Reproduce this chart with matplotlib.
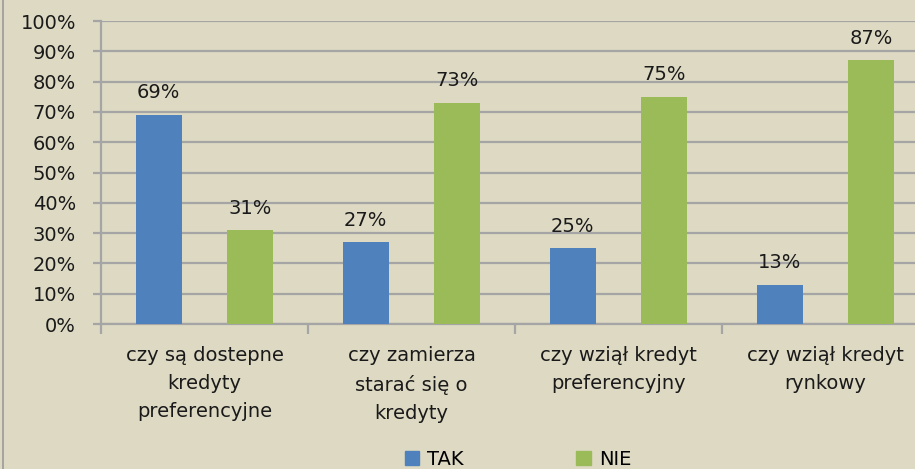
import matplotlib.pyplot as plt
import numpy as np
from matplotlib.patches import Patch
from matplotlib.lines import Line2D

# Data
categories = ["czy są dostepne\nkredyty\npreferencyjne",
              "czy zamierza\nstarać się o\nkredyty",
              "czy wziął kredyt\npreferencyjny",
              "czy wziął kredyt\nrynkowy"]
tak = [69, 27, 25, 13]
nie = [31, 73, 75, 87]
series_names = ["TAK", "NIE"]

bg = "#DDD9C3"
c_tak = "#4F81BD"
c_nie = "#9BBB59"
grid_c = "#A5A5A5"
fs = 14

fig = plt.figure(figsize=(9.15, 4.69), dpi=100, facecolor=bg)
ax = fig.add_axes([101 / 915, 1 - 324 / 469, 828 / 915, 303 / 469], facecolor=bg)

x = np.arange(len(categories))
w = 0.222
b1 = ax.bar(x - w, tak, width=w, color=c_tak, zorder=3)
b2 = ax.bar(x + w, nie, width=w, color=c_nie, zorder=3)

for bars, vals in [(b1, tak), (b2, nie)]:
    for r, v in zip(bars, vals):
        ax.annotate(f"{v}%", (r.get_x() + r.get_width() / 2, v),
                    xytext=(0, 9), textcoords="offset points",
                    ha="center", va="bottom", fontsize=fs, color="#1a1a1a")

ax.set_xlim(-0.5, 3.5)
ax.set_ylim(0, 100)
yt = np.arange(0, 101, 10)
ax.set_yticks(yt)
ax.set_yticklabels([f"{v}%" for v in yt], fontsize=fs, color="#1a1a1a")
ax.yaxis.grid(True, color=grid_c, lw=1.6, zorder=0)
ax.tick_params(axis="y", length=6, width=1.6, color=grid_c, pad=12)

# category labels centered, ticks at boundaries
ax.set_xticks(np.arange(-0.5, 4, 1))
ax.set_xticklabels([])
ax.set_xticks(x, minor=True)
ax.set_xticklabels(categories, minor=True, fontsize=fs, color="#1a1a1a",
                   linespacing=1.6)
ax.tick_params(axis="x", which="major", length=7, width=1.6, color=grid_c)
ax.tick_params(axis="x", which="minor", length=0, pad=16)

for s in ["top", "right"]:
    ax.spines[s].set_visible(False)
for s in ["left", "bottom"]:
    ax.spines[s].set_color(grid_c)
    ax.spines[s].set_linewidth(1.6)

# chart border at left edge
fig.add_artist(Line2D([2.5 / 915, 2.5 / 915], [0, 1], color="#9A9A9A", lw=1.2,
                      transform=fig.transFigure))

handles = [Patch(color=c_tak), Patch(color=c_nie)]
fig.legend(handles, series_names, loc="center", bbox_to_anchor=(0.566, 0.02),
           ncol=2, frameon=False, fontsize=fs, handlelength=0.75,
           handleheight=0.75, handletextpad=0.4, columnspacing=5.8,
           borderpad=0.1)

fig.savefig("out.png", dpi=100, facecolor=bg)
